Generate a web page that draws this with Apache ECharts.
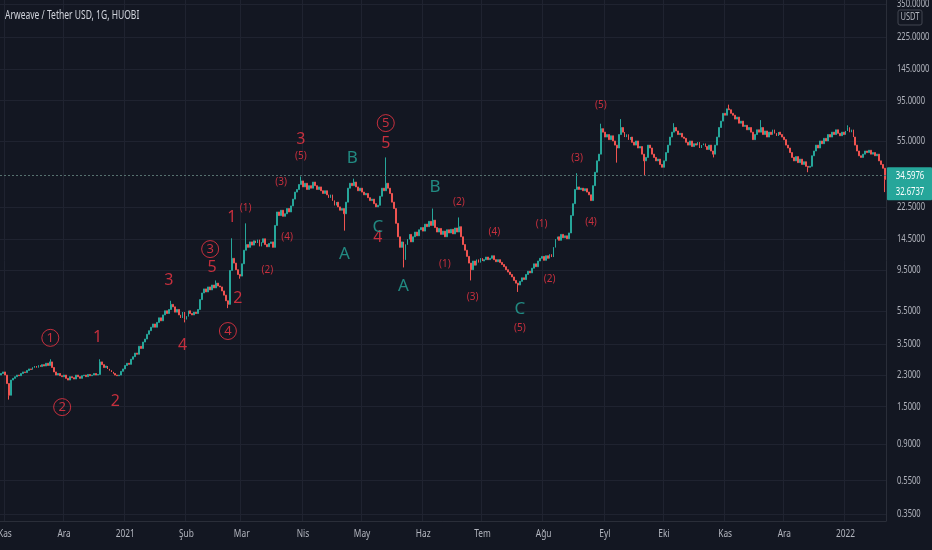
<!DOCTYPE html>
<html><head><meta charset="utf-8">
<script src="https://cdn.jsdelivr.net/npm/echarts@6.0.0/dist/echarts.min.js"></script>
<style>html,body{margin:0;padding:0;background:#131722;}#c{width:932px;height:550px;}</style>
</head><body><div id="c"></div>
<script>
const title = 'Arweave / Tether USD, 1G, HUOBI';
const startDate = [2020, 9, 30];
const firstOpen = 2.30;
const closes = [
2.35,2.40,2.30,2.05,1.75,2.15,2.20,2.25,2.30,2.28,
2.35,2.40,2.38,2.45,2.50,2.48,2.55,2.60,2.55,2.62,
2.58,2.65,2.60,2.70,2.62,2.75,2.55,2.40,2.30,2.35,
2.28,2.25,2.30,2.20,2.15,2.25,2.22,2.18,2.30,2.25,
2.20,2.28,2.30,2.25,2.32,2.28,2.30,2.35,2.30,2.32,
2.75,2.65,2.55,2.60,2.50,2.45,2.40,2.35,2.30,2.28,
2.30,2.42,2.50,2.62,2.70,2.66,2.85,2.95,3.10,3.05,
3.40,3.30,3.60,3.75,4.00,4.20,4.40,4.60,4.40,4.70,
5.00,4.80,5.20,5.50,5.30,5.60,6.00,5.80,5.40,5.60,
5.20,5.00,5.40,4.90,5.10,5.50,5.30,5.20,5.40,5.30,
5.60,6.40,7.00,7.40,7.10,7.60,7.30,7.80,7.50,8.00,
7.70,7.60,7.20,6.80,6.30,6.00,9.50,11.20,10.50,9.60,
9.00,8.80,10.40,12.50,13.50,13.00,14.00,13.40,14.20,13.80,
14.40,13.20,13.90,14.60,13.50,13.10,13.70,14.00,13.00,17.50,
21.00,20.00,21.50,19.80,20.50,22.00,21.00,22.80,25.00,27.50,
28.50,30.50,32.00,29.50,31.00,28.50,30.00,29.00,31.50,30.00,
28.50,29.50,28.00,27.00,28.00,26.50,25.50,26.50,24.50,23.00,
24.00,22.50,21.50,22.00,20.50,24.00,29.00,31.00,30.00,31.50,
29.50,28.00,29.00,27.50,26.50,27.00,25.50,24.50,25.00,23.50,
22.50,23.00,26.00,29.00,28.00,31.00,29.00,27.00,24.00,22.00,
18.00,15.00,13.00,14.00,11.00,13.50,14.50,15.50,14.00,15.00,
16.00,15.20,16.50,17.00,16.20,17.80,17.20,18.50,17.50,18.80,
17.00,16.00,16.80,15.50,16.20,15.00,16.50,15.80,16.60,15.60,
16.90,16.00,17.20,15.00,13.50,12.50,11.50,10.50,9.60,10.80,
10.20,11.00,10.60,11.20,10.80,11.00,11.40,11.00,11.20,11.60,
11.00,10.70,11.00,10.60,10.30,10.00,9.60,9.30,9.00,8.70,
8.30,8.00,7.80,8.20,8.60,8.40,9.00,9.40,9.20,9.80,
10.40,10.00,10.80,11.20,11.50,10.90,11.60,11.20,11.80,11.40,
13.00,14.50,15.00,14.30,15.50,14.80,15.20,14.60,15.80,20.00,
23.50,28.50,29.50,28.50,29.00,28.00,28.80,27.50,26.50,24.50,
30.00,36.00,42.00,46.00,65.00,62.00,58.00,60.00,56.00,59.00,
55.00,52.00,50.00,60.00,66.00,62.00,58.00,60.00,56.00,58.00,
54.00,52.00,55.00,50.00,51.00,46.00,42.00,44.00,52.00,50.00,
46.00,44.00,42.00,43.00,40.00,38.50,42.00,47.00,52.00,58.00,
62.00,66.00,63.00,60.00,61.00,58.00,57.00,54.00,52.00,55.00,
51.00,53.00,52.00,54.00,50.00,52.00,53.00,51.00,49.00,52.00,
48.00,46.00,52.00,58.00,66.00,72.00,80.00,78.00,85.00,84.00,
80.00,78.00,74.00,76.00,70.00,72.00,67.00,68.00,64.00,66.00,
62.00,56.00,60.00,64.00,62.00,66.00,60.00,63.00,58.00,62.00,
60.00,64.00,61.00,59.00,62.00,60.00,58.00,56.00,52.00,50.00,
47.00,44.00,42.00,44.50,41.00,43.00,40.00,41.50,39.00,38.50,
39.00,45.00,48.00,52.00,50.00,55.00,53.00,57.00,55.00,60.00,
58.00,62.00,60.00,64.00,61.00,59.00,62.00,60.00,63.00,66.00,
62.00,64.00,58.00,52.00,48.00,45.00,44.00,46.00,48.00,47.00,
48.50,46.00,47.00,45.00,46.00,42.00,40.00,38.00,32.6737
];
// visible wick extremes: [dayIndex, price]
const highMarks = [[25,2.85],[50,2.85],[86,6.3],[109,8.3],[117,14.7],[124,18.0],[152,34.0],[179,33.0],[195,44.0],[219,22.0],[232,19.5],[292,35.5],[304,69.5],[314,74.0],[341,70.0],[369,90.0],[385,73.0],[429,68.0]];
const lowMarks = [[4,1.65],[93,4.7],[115,5.7],[121,8.5],[174,16.3],[204,9.9],[238,8.3],[262,7.1],[312,41.0],[326,34.6],[361,44.0],[409,36.0],[448,27.5]];
const yTicks = [0.35,0.55,0.9,1.5,2.3,3.5,5.5,9.5,14.5,22.5,55,95,145,225,350];
const monthNames = ['Oca','Şub','Mar','Nis','May','Haz','Tem','Ağu','Eyl','Eki','Kas','Ara'];
const refLine = 34.5976;
const lastPrice = 32.6737;
const redBig = [['1',49,3.81],['2',58,1.60],['3',85,8.35],['4',92,3.46],['5',107,9.96],['2',120,6.54],['1',117,19.6],['3',152,56.5],['4',191,14.95],['5',195,53.5]];
const redSmall = [['(1)',124,22.2],['(2)',135,9.56],['(3)',142,31.5],['(4)',145,14.95],['(5)',152,44.8],['(2)',232,24.0],['(1)',225,10.4],['(4)',250,16.0],['(3)',239,6.63],['(5)',263,4.36],['(1)',274,17.8],['(2)',278,8.46],['(3)',292,43.6],['(4)',299,18.3],['(5)',304,89.5]];
const redCircled = [['1',25,3.81],['2',31,1.49],['3',106,12.7],['4',115,4.18],['5',195,70.1]];
const tealLetters = [['B',178,43.6],['A',174,11.9],['C',191,17.1],['B',220,29.5],['A',204,7.70],['C',263,5.64]];

const FONT = "'Noto Sans',sans-serif";
const NARROW = 0.72; // horizontal squeeze to mimic the condensed UI font
const UP = '#26a69a', DOWN = '#ef5350', RED = '#f23645', TEAL = '#26a69a', AXIS_TXT = '#b2b5be';

const pad = n => (n < 10 ? '0' : '') + n;
const dates = closes.map((_, i) => {
  const d = new Date(Date.UTC(startDate[0], startDate[1], startDate[2]) + i * 86400000);
  return d.getUTCFullYear() + '-' + pad(d.getUTCMonth() + 1) + '-' + pad(d.getUTCDate());
});
const hiMap = Object.fromEntries(highMarks), loMap = Object.fromEntries(lowMarks);
const candles = closes.map((c, i) => {
  const o = i === 0 ? firstOpen : closes[i - 1];
  const hi = hiMap[i] !== undefined ? hiMap[i] : Math.max(o, c);
  const lo = loMap[i] !== undefined ? loMap[i] : Math.min(o, c);
  return [o, c, lo, hi];
});
const isMonthStart = (idx, val) => val.slice(8) === '01';
const monthLabel = v => { const m = +v.slice(5, 7); return m === 1 ? v.slice(0, 4) : monthNames[m - 1]; };

function noteSeries(list, fontSize, color, circled) {
  return {
    type: 'scatter', silent: true, z: 5,
    symbol: 'circle', symbolSize: circled ? 17 : 1,
    itemStyle: circled ? {color: 'rgba(0,0,0,0)', borderColor: color, borderWidth: 1} : {color: 'rgba(0,0,0,0)'},
    label: {show: true, position: 'inside', color: color, fontSize: fontSize, fontFamily: FONT,
      formatter: p => p.data.name},
    data: list.map(a => ({name: a[0], value: [a[1], a[2]]}))
  };
}

const chart = echarts.init(document.getElementById('c'));
chart.setOption({
  backgroundColor: '#131722',
  animation: false,
  grid: {left: 0, right: 46, top: 0, bottom: 29, containLabel: false, outerBoundsMode: 'none'},
  xAxis: {
    type: 'category', data: dates, boundaryGap: true,
    axisLine: {show: true, lineStyle: {color: '#2a2e39'}},
    axisTick: {show: false},
    axisLabel: {show: false},
    splitLine: {show: true, interval: isMonthStart, lineStyle: {color: '#1f2330'}}
  },
  yAxis: {
    type: 'log', logBase: 10, position: 'right', min: 0.318, max: 372, scale: true,
    axisLine: {show: true, lineStyle: {color: '#2a2e39'}},
    axisTick: {show: false, customValues: yTicks},
    axisLabel: {show: false},
    splitLine: {show: true, lineStyle: {color: '#1f2330'}}
  },
  series: [
    {
      type: 'candlestick', data: candles, barWidth: '70%',
      itemStyle: {color: UP, color0: DOWN, borderColor: UP, borderColor0: DOWN, borderWidth: 1},
      markLine: {silent: true, symbol: 'none', label: {show: false},
        lineStyle: {color: '#56716f', type: [2, 2], width: 1},
        data: [{yAxis: refLine}]}
    },
    noteSeries(redBig, 16, RED, false),
    noteSeries(redSmall, 10, RED, false),
    noteSeries(redCircled, 13, RED, true),
    noteSeries(tealLetters, 17, TEAL, false)
  ]
});

// axis tick labels placed with the chart's own scales
const yLabels = yTicks.map(v => ({
  type: 'text', x: 897, y: chart.convertToPixel({yAxisIndex: 0}, v), scaleX: NARROW, z: 10,
  style: {text: v.toFixed(4), fill: AXIS_TXT, fontSize: 10.5, fontFamily: FONT, verticalAlign: 'middle'}
}));
const xLabels = dates.filter(d => d.slice(8) === '01').map(d => ({
  type: 'text', x: chart.convertToPixel({xAxisIndex: 0}, d), y: 534, scaleX: NARROW + 0.04, z: 10,
  style: {text: monthLabel(d), fill: AXIS_TXT, fontSize: 11, fontFamily: FONT, align: 'center', verticalAlign: 'middle'}
}));
const yRef = chart.convertToPixel({yAxisIndex: 0}, refLine);
chart.setOption({
  graphic: yLabels.concat(xLabels, [
    {type: 'text', x: 5, y: 16, scaleX: 0.71, z: 10,
      style: {text: title, fill: '#d1d4dc', fontSize: 12, fontFamily: FONT, verticalAlign: 'middle'}},
    {type: 'rect', z: 20, shape: {x: 898, y: 10, width: 24, height: 15, r: 2},
      style: {fill: '#131722', stroke: '#434651', lineWidth: 1}},
    {type: 'text', x: 910, y: 17.5, scaleX: 0.75, z: 21,
      style: {text: 'USDT', fill: AXIS_TXT, fontSize: 10, fontFamily: FONT, align: 'center', verticalAlign: 'middle'}},
    {type: 'rect', z: 20, shape: {x: 887, y: yRef - 8, width: 45, height: 33, r: 1}, style: {fill: '#26a69a'}},
    {type: 'text', x: 910, y: yRef + 0.5, scaleX: 0.7, z: 21,
      style: {text: refLine.toFixed(4), fill: '#ffffff', fontSize: 11, fontFamily: FONT, align: 'center', verticalAlign: 'middle'}},
    {type: 'text', x: 910, y: yRef + 16.5, scaleX: 0.7, z: 21,
      style: {text: lastPrice.toFixed(4), fill: '#ffffff', fontSize: 11, fontFamily: FONT, align: 'center', verticalAlign: 'middle'}}
  ])
});
</script></body></html>
